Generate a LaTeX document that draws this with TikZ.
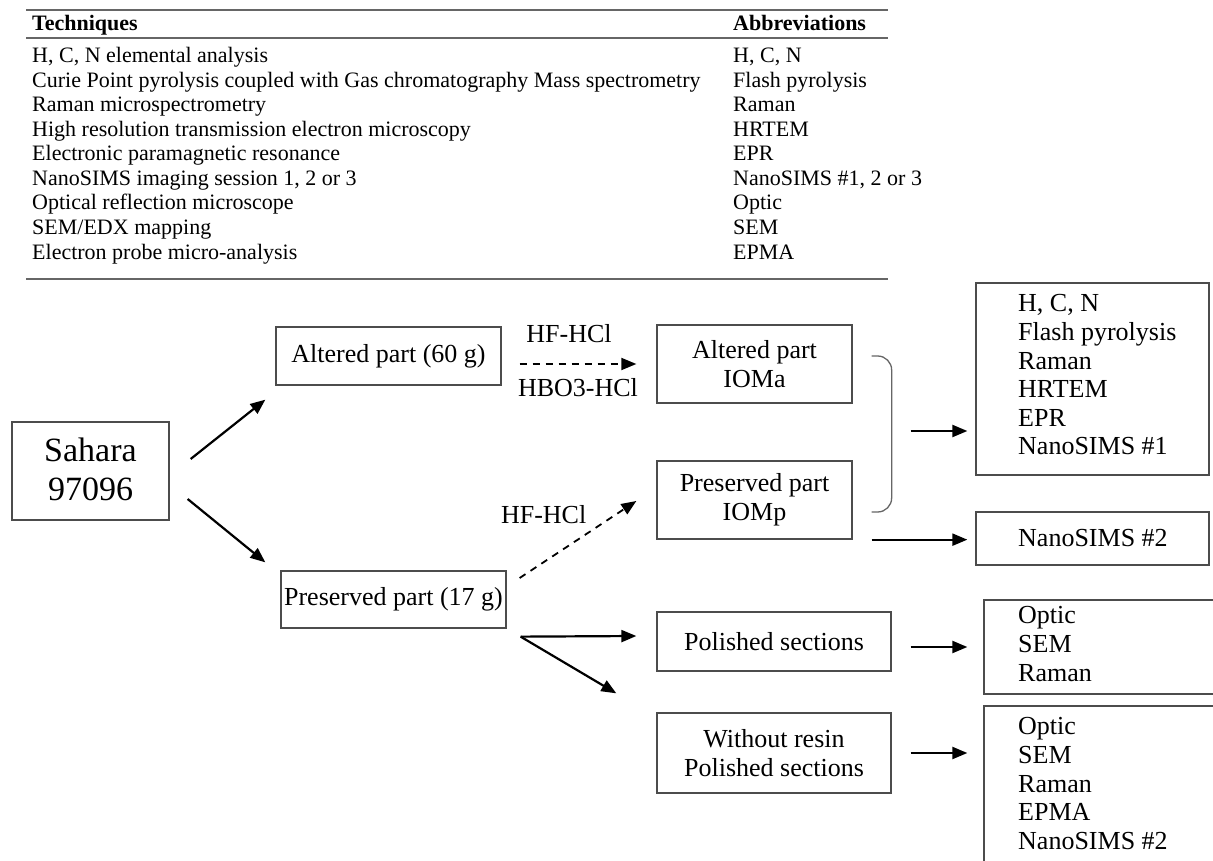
\documentclass[tikz,border=0pt]{standalone}
\usepackage{fontspec}
\setmainfont{Liberation Serif}
\usetikzlibrary{arrows.meta,calc}
\begin{document}
\begin{tikzpicture}[x=1pt,y=-1pt,
  box/.style={draw=black!70,line width=1.3pt,inner sep=0pt,align=center,font=\fontsize{26}{29}\selectfont},
  list/.style={inner sep=0pt,align=left,anchor=north west,font=\fontsize{26}{28.6}\selectfont},
  lbl/.style={inner sep=0pt,font=\fontsize{26}{29}\selectfont},
  arr/.style={line width=2.2pt,-{Triangle[length=15pt,width=12pt]}},
  darr/.style={arr,line width=1.8pt,dash pattern=on 7pt off 6pt},
  tab/.style={inner sep=0pt,anchor=base west,font=\fontsize{22}{24}\selectfont},
  rule/.style={draw=black!60,line width=1.6pt}]
\useasboundingbox (0,0) rectangle (1213,861);
\clip (0,0) rectangle (1213,861);
% table of techniques
\draw[rule] (26,10) -- (888,10); \draw[rule] (26,38) -- (888,38); \draw[rule] (26,279) -- (888,279);
\node[tab,font=\fontsize{22}{24}\selectfont\bfseries] (thead) at (32,31) {Techniques};
\node[tab,font=\fontsize{22}{24}\selectfont\bfseries] (ahead) at (733,31) {Abbreviations};
\foreach \tech/\abbr [count=\i from 0] in {{H, C, N elemental analysis}/{H, C, N},
  {Curie Point pyrolysis coupled with Gas chromatography Mass spectrometry}/{Flash pyrolysis},
  {Raman microspectrometry}/Raman, {High resolution transmission electron microscopy}/HRTEM,
  {Electronic paramagnetic resonance}/EPR, {NanoSIMS imaging session 1, 2 or 3}/{NanoSIMS \#1, 2 or 3},
  {Optical reflection microscope}/Optic, {SEM/EDX mapping}/SEM, {Electron probe micro-analysis}/EPMA}
  { \node[tab] (tech\i) at (32,63+24.5*\i) {\tech}; \node[tab] (abbr\i) at (733,63+24.5*\i) {\abbr}; }
% samples
\node[box,minimum width=157pt,minimum height=98pt,font=\fontsize{34}{39}\selectfont] (sahara) at (90.5,471) {\raisebox{4pt}{Sahara}\\\raisebox{4pt}{97096}};
\node[box,minimum width=225pt,minimum height=58pt] (altered) at (388.5,356) {Altered part (60 g)};
\node[box,minimum width=225pt,minimum height=57pt] (preserved) at (393.5,599.5) {Preserved part (17 g)};
\node[box,minimum width=195pt,minimum height=78pt] (ioma) at (754.5,364) {Altered part\\IOMa};
\node[box,minimum width=195pt,minimum height=78pt] (iomp) at (754.5,500) {Preserved part\\IOMp};
\node[box,minimum width=234pt,minimum height=59pt] (polished) at (774,641.5) {Polished sections};
\node[box,minimum width=234pt,minimum height=80pt] (noresin) at (774,753) {Without resin\\Polished sections};
% analyses
\node[box,minimum width=233pt,minimum height=192pt] (res1) at (1092.5,379) {};
\node[list] (res1txt) at (1018,294.5) {H, C, N\\Flash pyrolysis\\Raman\\HRTEM\\EPR\\NanoSIMS \#1};
\node[box,minimum width=233pt,minimum height=53pt] (res2) at (1092.5,538.5) {};
\node[list,anchor=base west] (res2txt) at (1018,546) {NanoSIMS \#2};
\node[box,minimum width=256pt,minimum height=94pt] (res3) at (1112,647) {};
\node[list] (res3txt) at (1018,606.5) {Optic\\SEM\\Raman};
\node[box,minimum width=256pt,minimum height=194pt] (res4) at (1112,803) {};
\node[list] (res4txt) at (1018,717.5) {Optic\\SEM\\Raman\\EPMA\\NanoSIMS \#2};
% connectors
\draw[arr] ($(sahara.east)+(21,-12)$) -- ($(altered.south west)+(-10,14)$);
\draw[arr] ($(sahara.east)+(18,28)$) -- ($(preserved.north west)+(-15,-8)$);
\draw[darr] ($(altered.east)+(18,8)$) -- node[lbl,above=20pt,xshift=-9pt] (hf1) {HF-HCl}
  node[lbl,below=14pt] (hbo) {HBO3-HCl} ($(ioma.west)+(-20,0)$);
\draw[darr] ($(preserved.east)+(13,-21.5)$) -- node[lbl,pos=0.69,anchor=south east,xshift=-13pt] (hf2) {HF-HCl}
  ($(iomp.west)+(-20,1)$);
\draw[arr] ($(preserved.south east)+(14,8)$) coordinate (fork) -- ($(polished.west)+(-20,-5.5)$);
\draw[arr] (fork) -- ($(noresin.north west)+(-40,-19)$);
\draw[draw=black!60,line width=1.3pt,rounded corners=14pt] ($(ioma.east)+(19,-8)$)
  -| ($(ioma.east)!0.5!(iomp.east)+(39,0)$) coordinate (bracemid) |- ($(iomp.east)+(19,12)$);
\draw[arr] ($(bracemid)+(19,-1)$) -- ($(bracemid -| res1.west)+(-8,-1)$);
\draw[arr] ($(iomp.south east)+(19,0)$) -- ($(iomp.south east -| res2.west)+(-8,0)$);
\draw[arr] ($(res3.west -| polished.east)+(19,0)$) -- ($(res3.west)+(-16,0)$);
\draw[arr] ($(noresin.east)+(19,0)$) -- ($(noresin.east -| res4.west)+(-16,0)$);
\end{tikzpicture}
\end{document}
